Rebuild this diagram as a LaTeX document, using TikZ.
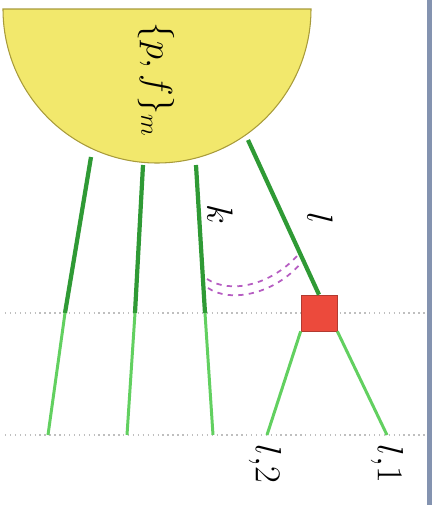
\documentclass[tikz,border=0pt]{standalone}
\usepackage{amsmath}
\usepackage{xcolor}
\usepackage{tikz}
\usetikzlibrary{positioning}

\definecolor{blobyellow}{HTML}{F2E86C}
\definecolor{blobedge}{HTML}{A89B3A}
\definecolor{darkgreen}{HTML}{2F9A35}
\definecolor{lightgreen}{HTML}{62D060}
\definecolor{boxred}{HTML}{EC4A3C}
\definecolor{boxedge}{HTML}{B23A30}
\definecolor{gluon}{HTML}{B65DC2}
\definecolor{sidebar}{HTML}{8493B0}

\begin{document}
\begin{tikzpicture}[
    x=0.02cm, y=0.02cm,
    hard/.style={draw=darkgreen, line width=2.4pt},
    soft/.style={draw=lightgreen, line width=1.7pt},
    cut/.style={draw=gray!50, dotted, line width=0.8pt},
    vertex/.style={draw=boxedge, fill=boxred, minimum size=0.72cm, inner sep=0pt},
    lbl/.style={rotate=-90, font=\fontsize{20}{24}\selectfont, inner sep=0pt},
    link/.style={draw=gluon, dashed, line width=1pt}
]
    \useasboundingbox (0,0) rectangle (432,-505);
    \fill[sidebar] (427,0) rectangle (432,-505);

    % the blob
    \filldraw[fill=blobyellow, draw=blobedge, line width=0.6pt]
        (3,-9) arc[start angle=180, end angle=360, radius=154] -- cycle;
    \node[lbl] (blob) at (156,-80) {$\{p,f\}_m$};

    % cut lines
    \coordinate (c1a) at (5,-313);   \coordinate (c1b) at (427,-313);
    \coordinate (c2a) at (5,-435);   \coordinate (c2b) at (427,-435);
    \draw[cut] (c1a) -- (c1b);
    \draw[cut] (c2a) -- (c2b);

    % spectator lines
    \coordinate (a1) at (91,-157);  \coordinate (a2) at (65,-313);  \coordinate (a3) at (48,-435);
    \coordinate (b1) at (143,-165); \coordinate (b2) at (135,-313); \coordinate (b3) at (127,-435);
    \coordinate (k1) at (196,-165); \coordinate (k2) at (205,-313); \coordinate (k3) at (213,-435);
    \draw[hard] (a1) -- (a2);  \draw[soft] (a2) -- (a3);
    \draw[hard] (b1) -- (b2);  \draw[soft] (b2) -- (b3);
    \draw[hard] (k1) -- (k2);  \draw[soft] (k2) -- (k3);

    % splitting line
    \coordinate (l0) at (248,-140);
    \node[vertex] (split) at (319,-313) {};
    \coordinate (l1) at (387,-435);
    \coordinate (l2) at (267,-435);
    \draw[hard] (l0) -- (split.north);
    \draw[soft] (split.south west) -- (l2);
    \draw[soft] (split.south east) -- (l1);

    % exchange
    \coordinate (ka) at (207,-279); \coordinate (la) at (298,-255);
    \coordinate (kb) at (208,-288); \coordinate (lb) at (302,-262);
    \draw[link] (ka) .. controls (230,-294) and (270,-286) .. (la);
    \draw[link] (kb) .. controls (230,-303) and (274,-295) .. (lb);

    \node[lbl] (klab) at (220,-214) {$k$};
    \node[lbl] (llab) at (320,-218) {$l$};
    \node[lbl] (l2lab) at (265,-464) {$l{,}2$};
    \node[lbl] (l1lab) at (387,-464) {$l{,}1$};
\end{tikzpicture}
\end{document}
